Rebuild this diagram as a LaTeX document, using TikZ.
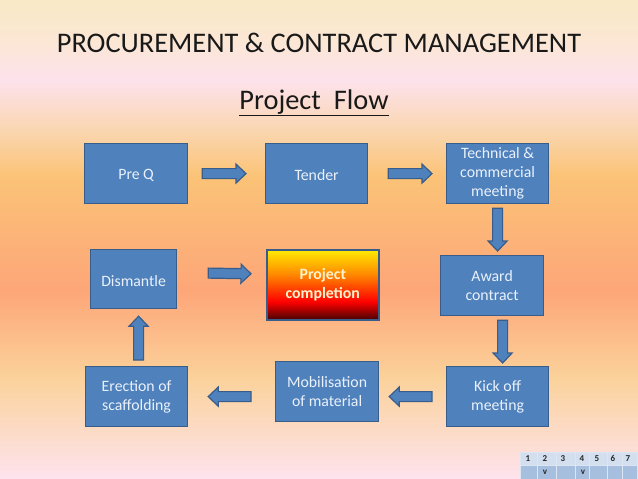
\documentclass[tikz,border=0pt]{standalone}
\usepackage{fontspec}
\setmainfont{Carlito}
\usetikzlibrary{calc}
\definecolor{boxfill}{HTML}{4F81BD}
\definecolor{boxline}{HTML}{385D8A}
\definecolor{boxtext}{HTML}{EAF1FA}
\definecolor{tabhead}{HTML}{D3DFEE}
\definecolor{tabbody}{HTML}{A7BFDE}
\definecolor{projtext}{HTML}{FFF3CF}
\definecolor{bga}{HTML}{FDE3EE}
\definecolor{bgb}{HTML}{FBD29B}
\definecolor{bgc}{HTML}{FDA678}
\definecolor{bgd}{HTML}{FBC377}
\definecolor{bge}{HTML}{FAD6B0}
\definecolor{bgf}{HTML}{FDE2EC}
\definecolor{bgg}{HTML}{FBE7D4}
\definecolor{bgh}{HTML}{F9E9C6}
\definecolor{pa}{HTML}{460000}
\definecolor{pb}{HTML}{FF0000}
\definecolor{pc}{HTML}{FF8C00}
\definecolor{pd}{HTML}{FFEB00}
\pgfdeclareverticalshading{slidebg}{100bp}{
 color(0bp)=(bga);
 color(25bp)=(bga);
 color(35.5bp)=(bgb);
 color(44.7bp)=(bgc);
 color(56.7bp)=(bgd);
 color(61.4bp)=(bge);
 color(66.6bp)=(bgf);
 color(70.8bp)=(bgg);
 color(75bp)=(bgh);
 color(100bp)=(bgh)}
\pgfdeclareverticalshading{projfill}{100bp}{
 color(0bp)=(pa);
 color(25bp)=(pa);
 color(38bp)=(pb);
 color(58bp)=(pc);
 color(75bp)=(pd);
 color(100bp)=(pd)}
\tikzset{
 x=1pt,y=-1pt,
 flowbox/.style={rectangle,draw=boxline,line width=1.2pt,fill=boxfill,text=boxtext,
   align=center,font=\fontsize{15.8}{19}\selectfont,inner sep=0pt,anchor=north west,
   execute at begin node={\rule{0pt}{14pt}}},
 arrowshape/.style={fill=boxfill,draw=boxline,line width=1.2pt,line join=miter},
 tabcell/.style={font=\fontsize{9}{10}\selectfont\bfseries,text=black!85,inner sep=0pt},
 tabline/.style={draw=white!80!boxfill,line width=.7pt}
}
% block arrow from #1 to #2
\newcommand{\blockarrow}[2]{%
 \draw[arrowshape]
  let \p1=#1, \p2=#2, \n1={atan2(\y2-\y1,\x2-\x1)} in
  [shift={(\p1)},rotate=\n1,yscale=-1]
  (0pt,-5pt) -- ({veclen(\x2-\x1,\y2-\y1)-10pt},-5pt) -- ({veclen(\x2-\x1,\y2-\y1)-10pt},-9.5pt)
  -- ({veclen(\x2-\x1,\y2-\y1)},0pt) -- ({veclen(\x2-\x1,\y2-\y1)-10pt},9.5pt)
  -- ({veclen(\x2-\x1,\y2-\y1)-10pt},5pt) -- (0pt,5pt) -- cycle;}
\begin{document}
\begin{tikzpicture}
\useasboundingbox (0,0) rectangle (638,479);
\path[shading=slidebg] (0,0) rectangle (638,479);

\node[inner sep=0pt,font=\fontsize{28.4}{32}\selectfont,text=black!90] (title) at (319,43) {PROCUREMENT \& CONTRACT MANAGEMENT};
\node[inner sep=0pt,font=\fontsize{28.4}{32}\selectfont,text=black!90] (sub) at (314,103) {\underline{Project\ \ Flow}};

\node[flowbox,minimum width=103pt,minimum height=60pt] (preq) at (84,143) {Pre Q};
\node[flowbox,minimum width=102pt,minimum height=60pt] (tender) at (265,143) {Tender};
\node[flowbox,minimum width=102pt,minimum height=60pt] (tech) at (446,143) {Technical \&\\commercial\\meeting};
\node[flowbox,minimum width=103pt,minimum height=60pt] (award) at (440,255) {Award\\contract};
\node[flowbox,minimum width=102pt,minimum height=60pt] (kick) at (446,366) {Kick off\\meeting};
\node[flowbox,minimum width=103pt,minimum height=60pt] (mob) at (275,361) {Mobilisation\\of material};
\node[flowbox,minimum width=102pt,minimum height=60pt] (erect) at (85,366) {Erection of\\scaffolding};
\node[flowbox,minimum width=86pt,minimum height=59pt] (dism) at (90,249) {Dismantle};
\node[rectangle,draw=boxline,line width=1.6pt,shading=projfill,minimum width=112pt,minimum height=70pt,
  inner sep=0pt,anchor=north west,align=center,text=projtext,font=\fontsize{15.8}{19}\selectfont\bfseries] (proj) at (266,249) {Project\\completion};

\blockarrow{($(preq.east)+(14,0)$)}{($(tender.west)+(-19,0)$)}
\blockarrow{($(tender.east)+(20,0)$)}{($(tech.west)+(-14,0)$)}
\blockarrow{($(tech.south)+(0,4)$)}{($(award.north)+(5.5,-4)$)}
\blockarrow{($(award.south)+(10.5,4)$)}{($(kick.north)+(5,-3)$)}
\blockarrow{($(kick.west)+(-14,0)$)}{($(mob.east)+(10,5)$)}
\blockarrow{($(mob.west)+(-24,5)$)}{($(erect.east)+(20,0)$)}
\blockarrow{($(erect.north)+(2,-6)$)}{($(dism.south)+(5,7)$)}
\blockarrow{($(dism.east)+(31,-6)$)}{($(proj.west)+(-15,-11)$)}

% status table
\fill[tabhead] (520,452) rectangle (637,465);
\fill[tabbody] (520,465) rectangle (637,479);
\draw[tabline] (520,452) -- (637,452) -- (637,479);
\draw[tabline] (520,465) -- (637,465);
\foreach \xx in {520,537,556.5,575.5,589,607,622}
  \draw[tabline] (\xx,452) -- (\xx,479);
\node[tabcell] (h1) at (528,458.5) {1};
\node[tabcell] (h2) at (545,458.5) {2};
\node[tabcell] (h3) at (563,458.5) {3};
\node[tabcell] (h4) at (582,458.5) {4};
\node[tabcell] (h5) at (597,458.5) {5};
\node[tabcell] (h6) at (613,458.5) {6};
\node[tabcell] (h7) at (628,458.5) {7};
\node[tabcell] (v2) at (545,472) {v};
\node[tabcell] (v4) at (583,472) {v};
\end{tikzpicture}
\end{document}
